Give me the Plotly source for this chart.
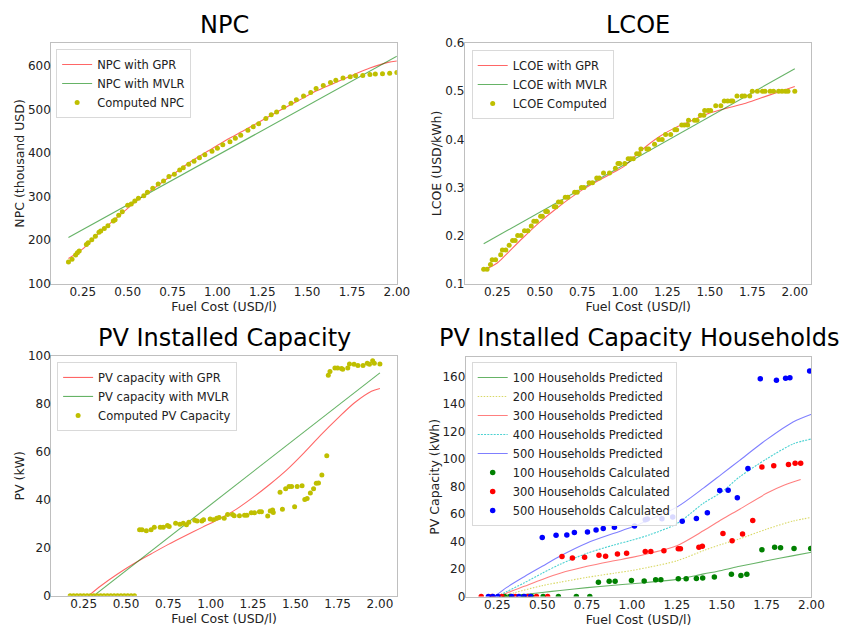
import plotly.graph_objects as go

# ---------------- DATA ----------------
# NPC
npc_x = [0.17,0.19,0.21,0.22,0.23,0.27,0.28,0.30,0.32,0.34,0.35,0.37,0.39,0.42,0.43,0.45,0.47,0.50,0.52,0.54,
         0.56,0.59,0.61,0.64,0.67,0.70,0.73,0.76,0.79,0.81,0.84,0.87,0.90,0.93,0.97,1.00,1.03,1.07,1.10,1.13,
         1.17,1.20,1.23,1.27,1.30,1.33,1.37,1.41,1.44,1.48,1.52,1.55,1.59,1.63,1.66,1.70,1.74,1.77,1.81,1.85,
         1.88,1.92,1.96,2.00]
npc_y = [150,156,166,171,175,190,194,201,209,218,221,227,233,244,247,257,265,280,283,290,
         296,302,310,319,329,336,346,351,361,366,374,381,389,396,404,411,419,426,434,441,
         452,460,467,479,488,494,505,514,522,531,539,548,555,562,567,572,575,577,578,580,
         581,582,583,585]
npc_gpr_x = [0.17,0.25,0.35,0.45,0.55,0.65,0.75,0.85,0.95,1.05,1.15,1.25,1.35,1.45,1.55,1.65,1.75,1.85,1.95,2.0]
npc_gpr_y = [158,180,220,255,290,320,350,380,405,430,452,475,498,520,542,560,578,595,608,611]
npc_mvlr_x = [0.17, 2.0]
npc_mvlr_y = [206, 622]

# LCOE
lcoe_x = [0.17,0.19,0.21,0.22,0.24,0.27,0.28,0.30,0.32,0.34,0.355,0.37,0.39,0.41,0.43,0.45,0.465,0.48,0.505,0.515,
          0.535,0.545,0.585,0.595,0.61,0.625,0.65,0.665,0.705,0.72,0.745,0.76,0.79,0.81,0.835,0.85,0.875,0.91,0.945,0.96,
          0.97,1.0,1.02,1.035,1.05,1.07,1.085,1.095,1.13,1.14,1.175,1.2,1.22,1.24,1.27,1.295,1.305,1.335,1.35,1.37,
          1.375,1.41,1.425,1.445,1.465,1.47,1.49,1.505,1.535,1.565,1.585,1.605,1.625,1.635,1.66,1.69,1.705,1.735,1.75,1.78,
          1.81,1.825,1.855,1.875,1.905,1.925,1.945,1.96,2.0]
lcoe_y = [0.13,0.13,0.14,0.15,0.15,0.16,0.17,0.17,0.18,0.19,0.19,0.20,0.20,0.21,0.21,0.22,0.23,0.23,0.24,0.24,
          0.25,0.25,0.26,0.26,0.27,0.27,0.28,0.28,0.29,0.29,0.30,0.30,0.31,0.31,0.32,0.32,0.33,0.33,0.34,0.35,
          0.35,0.35,0.36,0.36,0.36,0.37,0.37,0.38,0.38,0.38,0.39,0.40,0.40,0.41,0.41,0.42,0.42,0.43,0.43,0.43,
          0.44,0.44,0.44,0.45,0.45,0.46,0.46,0.46,0.47,0.47,0.48,0.48,0.48,0.48,0.49,0.49,0.49,0.49,0.50,0.50,
          0.50,0.50,0.50,0.50,0.50,0.50,0.50,0.50,0.50]
lcoe_gpr_x = [0.17,0.25,0.3,0.4,0.5,0.6,0.75,0.9,1.0,1.1,1.2,1.3,1.4,1.5,1.6,1.7,1.8,1.9,2.0]
lcoe_gpr_y = [0.128,0.143,0.160,0.195,0.228,0.257,0.295,0.325,0.345,0.378,0.405,0.425,0.44,0.455,0.465,0.474,0.486,0.498,0.51]
lcoe_mvlr_x = [0.17, 2.0]
lcoe_mvlr_y = [0.183, 0.547]

# PV installed capacity
pv_x = [0.17,0.19,0.21,0.23,0.25,0.27,0.29,0.31,0.33,0.35,0.37,0.39,0.41,0.43,0.45,0.47,0.49,0.51,0.53,0.55,
        0.58,0.594,0.62,0.648,0.667,0.702,0.72,0.745,0.755,0.793,0.818,0.838,0.857,0.871,0.906,
        0.92,0.948,0.958,0.997,1.016,1.036,1.05,1.08,1.1,1.129,1.139,1.17,1.2,1.214,1.24,
        1.259,1.288,1.30,1.337,1.352,1.366,1.37,1.41,1.424,1.443,1.463,1.478,1.496,1.511,1.54,
        1.556,1.57,1.589,1.608,1.624,1.637,1.657,1.686,1.695,1.705,1.734,1.75,1.773,1.78,1.81,
        1.82,1.847,1.87,1.9,1.925,1.938,1.957,1.967,2.0]
pv_y = [0]*20 + [27.5,27.5,27.1,27.5,28.5,28.5,28.6,29.3,28.9,30.2,29.8,30.2,29.6,30.6,31.5,
        31.2,31.2,31.7,32,31.7,32.3,32.6,32.3,33.9,33.9,33.4,33.4,33.6,33.6,34.6,
        34.6,35,35,33.2,35.3,35.7,34.7,43.2,36.1,44.6,45.6,45.6,37.1,45.6,45.9,
        40.1,40.5,42.8,44.6,46.9,47,50.4,58.4,92,93.6,95,95,94.8,94.5,95,
        96.7,96.6,96.1,96.1,97,96.6,98,97,96.7]
pv_gpr_x = [0.28,0.35,0.45,0.55,0.65,0.75,0.85,0.95,1.05,1.15,1.25,1.35,1.45,1.55,1.65,1.75,1.85,1.95,2.0]
pv_gpr_y = [0,4,9,13.5,17.5,21.4,25,28.5,32,36,41,46.5,52.5,59.5,67,74,80.5,85.3,86.5]
pv_mvlr_x = [0.31, 2.0]
pv_mvlr_y = [0, 93]

# Households predicted
hp100_x = [0.28,0.4,0.5,0.6,0.75,0.9,1.0,1.1,1.25,1.4,1.5,1.6,1.75,1.9,2.0]
hp100_y = [0,1.5,3,4.5,6.5,8.3,9.3,10.5,12.5,16.5,19,22,26,29.8,32.2]
hp200_x = [0.27,0.35,0.5,0.6,0.75,0.9,1.0,1.1,1.25,1.4,1.5,1.6,1.75,1.9,2.0]
hp200_y = [0,3,8,10.5,14,17,19,21.5,26,33.5,38,42,49,55,57.5]
hp300_x = [0.26,0.3,0.4,0.5,0.6,0.75,0.9,1.0,1.1,1.25,1.4,1.5,1.6,1.75,1.85,1.94]
hp300_y = [0,2.5,7.5,12.5,17,22,26,28.5,31.5,37,48,56,63.5,75,81,85]
hp400_x = [0.25,0.3,0.4,0.5,0.6,0.75,0.9,1.0,1.1,1.25,1.4,1.5,1.6,1.75,1.9,2.0]
hp400_y = [0,3.5,10,17,23.5,31.5,37.5,41,45,53,68,76,87,100,111,114.5]
hp500_x = [0.235,0.3,0.4,0.5,0.6,0.75,0.9,1.0,1.1,1.25,1.4,1.5,1.6,1.75,1.9,2.0]
hp500_y = [0,6.5,14.5,22,29.5,39,46,50.5,56,65,79,89,99,114,127,132.5]

# Households calculated
hc100_x = [0.29,0.32,0.395,0.44,0.505,0.59,0.69,0.765,0.813,0.873,0.906,0.997,1.068,1.132,1.161,1.258,1.302,1.359,
           1.394,1.459,1.554,1.607,1.64,1.724,1.795,1.828,1.903,1.996]
hc100_y = [0,0,0,0,0,0,0,0,10.5,11.2,11.2,11.7,11.4,12.2,12.2,12.9,12.9,13.1,
           13.6,14.3,16.2,15.3,16.2,34.1,35.8,35.5,35,35]
hc300_x = [0.16,0.22,0.275,0.35,0.42,0.468,0.53,0.61,0.668,0.736,0.816,0.853,0.919,0.97,1.074,1.105,1.178,1.258,1.27,
           1.373,1.392,1.507,1.558,1.616,1.673,1.724,1.79,1.872,1.909,1.94]
hc300_y = [0,0,0,0,0,0,0,29.1,28.1,28.6,30,29.3,31,31.5,32.7,32.7,33.4,34.8,34.8,
           35.8,36.5,45.8,40.5,45.5,55.3,94.2,95.1,95.9,96.8,96.8]
hc500_x = [0.20,0.225,0.253,0.33,0.37,0.40,0.435,0.5,0.577,0.637,0.679,0.752,0.8,0.84,0.902,1.014,1.074,1.085,1.167,
           1.227,1.28,1.359,1.42,1.489,1.536,1.587,1.646,1.715,1.805,1.856,1.88,1.99]
hc500_y = [0,0,0,0,0,0,0,42.9,44.6,44.8,46.5,47,48.4,49.4,50.3,51.3,55.8,56.3,56.5,
           57.9,54.8,56.7,61,77,77.3,71.8,93,158.3,157.1,158.6,159,163.8]

x_ticks = [0.25, 0.50, 0.75, 1.00, 1.25, 1.50, 1.75, 2.00]

# ---------------- STYLES ----------------
FONT = "DejaVu Sans"
RED_L = "rgba(255,0,0,0.6)"
GRN_L = "rgba(0,128,0,0.6)"
YEL = "#bfbf00"
W, H = 853, 631

def px_x(p):
    return p / W

def px_y(p):
    return 1 - p / H

fig = go.Figure()

def line(x, y, name, color, xa, ya, leg, dash="solid", shape="spline"):
    fig.add_trace(go.Scatter(x=x, y=y, mode="lines", name=name, xaxis=xa, yaxis=ya, legend=leg,
                             line=dict(color=color, width=1.1, dash=dash, shape=shape, smoothing=0.8)))

def pts(x, y, name, color, xa, ya, leg, size=5):
    fig.add_trace(go.Scatter(x=x, y=y, mode="markers", name=name, xaxis=xa, yaxis=ya, legend=leg,
                             marker=dict(color=color, size=size, line=dict(width=0))))

# NPC
line(npc_gpr_x, npc_gpr_y, "NPC with GPR", RED_L, "x", "y", "legend")
line(npc_mvlr_x, npc_mvlr_y, "NPC with MVLR", GRN_L, "x", "y", "legend", shape="linear")
pts(npc_x, npc_y, "Computed NPC", YEL, "x", "y", "legend")
# LCOE
line(lcoe_gpr_x, lcoe_gpr_y, "LCOE with GPR", RED_L, "x2", "y2", "legend2")
line(lcoe_mvlr_x, lcoe_mvlr_y, "LCOE with MVLR", GRN_L, "x2", "y2", "legend2", shape="linear")
pts(lcoe_x, lcoe_y, "LCOE Computed", YEL, "x2", "y2", "legend2")
# PV
line(pv_gpr_x, pv_gpr_y, "PV capacity with GPR", RED_L, "x3", "y3", "legend3")
line(pv_mvlr_x, pv_mvlr_y, "PV capacity with MVLR", GRN_L, "x3", "y3", "legend3", shape="linear")
pts(pv_x, pv_y, "Computed PV Capacity", YEL, "x3", "y3", "legend3")
# Households
line(hp100_x, hp100_y, "100 Households Predicted", "rgba(0,128,0,0.6)", "x4", "y4", "legend4")
line(hp200_x, hp200_y, "200 Households Predicted", "rgba(191,191,0,0.6)", "x4", "y4", "legend4", dash="1.5px,1.5px")
line(hp300_x, hp300_y, "300 Households Predicted", "rgba(255,0,0,0.5)", "x4", "y4", "legend4")
line(hp400_x, hp400_y, "400 Households Predicted", "rgba(0,191,191,0.7)", "x4", "y4", "legend4", dash="2px,1.2px")
line(hp500_x, hp500_y, "500 Households Predicted", "rgba(0,0,255,0.5)", "x4", "y4", "legend4")
pts(hc100_x, hc100_y, "100 Households Calculated", "#008000", "x4", "y4", "legend4", size=5.5)
pts(hc300_x, hc300_y, "300 Households Calculated", "#ff0000", "x4", "y4", "legend4", size=5.5)
pts(hc500_x, hc500_y, "500 Households Calculated", "#0000ff", "x4", "y4", "legend4", size=5.5)

# ---------------- AXES ----------------
def xaxis(dom, rng, anchor):
    return dict(domain=[px_x(dom[0]), px_x(dom[1])], range=rng, anchor=anchor,
                tickvals=x_ticks, tickformat=".2f", showgrid=False, zeroline=False,
                showline=True, mirror=True, linecolor="#bfbfbf", linewidth=1,
                ticks="", ticklabelstandoff=-3,
                tickfont=dict(size=12, color="#222", family=FONT),
                title=dict(text="Fuel Cost (USD/l)", font=dict(size=12.5, color="#222", family=FONT), standoff=1))

def yaxis(dom, rng, anchor, dtick, fmt, title):
    return dict(domain=[px_y(dom[1]), px_y(dom[0])], range=rng, anchor=anchor, dtick=dtick, tickformat=fmt,
                showgrid=False, zeroline=False,
                showline=True, mirror=True, linecolor="#bfbfbf", linewidth=1,
                ticks="", ticklabelstandoff=-3,
                tickfont=dict(size=12, color="#222", family=FONT),
                title=dict(text=title, font=dict(size=12.5, color="#222", family=FONT), standoff=0))

legend_common = dict(bgcolor="rgba(255,255,255,0.85)", bordercolor="#d9d9d9", borderwidth=1,
                     font=dict(size=11.5, color="#222", family=FONT), xanchor="left", yanchor="top",
                     tracegroupgap=0)

fig.update_layout(
    width=W, height=H, margin=dict(l=0, r=0, t=0, b=0),
    paper_bgcolor="white", plot_bgcolor="white",
    font=dict(family=FONT, color="#222"),
    xaxis=xaxis((52, 403), [0.074, 2.0], "y"),
    yaxis=yaxis((37, 283), [100, 652], "x", 100, "d", "NPC (thousand USD)"),
    xaxis2=xaxis((472, 824), [0.059, 2.098], "y2"),
    yaxis2=yaxis((37, 283), [0.1, 0.6], "x2", 0.1, ".1f", "LCOE (USD/kWh)"),
    xaxis3=xaxis((52, 403), [0.058, 2.1], "y3"),
    yaxis3=yaxis((357, 602), [0, 100], "x3", 20, "d", "PV (kW)"),
    xaxis4=xaxis((473, 824), [0.074, 2.0], "y4"),
    yaxis4=yaxis((358, 603), [0, 174], "x4", 20, "d", "PV Capacity (kWh)"),
    legend=dict(x=px_x(57), y=px_y(43), **legend_common),
    legend2=dict(x=px_x(479), y=px_y(44), **legend_common),
    legend3=dict(x=px_x(58), y=px_y(363), **legend_common),
    legend4=dict(x=px_x(479), y=px_y(363), **legend_common),
)

titles = [("NPC", 228, 18), ("LCOE", 648, 18), ("PV Installed Capacity", 228, 338),
          ("PV Installed Capacity Households", 649, 338)]
for text, cx, cy in titles:
    fig.add_annotation(text=text, x=px_x(cx), y=px_y(cy), xref="paper", yref="paper",
                       xanchor="center", yanchor="middle", showarrow=False,
                       font=dict(size=24, color="black", family=FONT))

fig.write_html("out.html")
